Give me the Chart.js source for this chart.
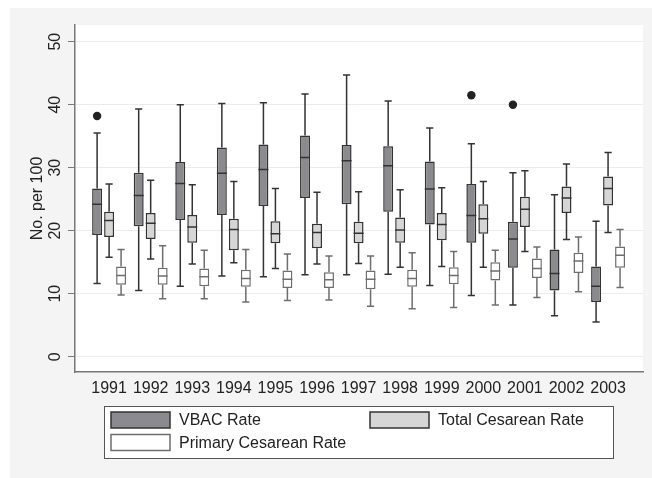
<!DOCTYPE html>
<html>
<head>
<meta charset="utf-8">
<script src="https://cdn.jsdelivr.net/npm/chart.js@4.4.1/dist/chart.umd.min.js"></script>
<style>
  body { margin: 0; background: #fff; }
  #canvasBox { display: block; }
</style>
</head>
<body>
<canvas id="canvasBox" width="652" height="478"></canvas>
<script>
var years = [1991, 1992, 1993, 1994, 1995, 1996, 1997, 1998, 1999, 2000, 2001, 2002, 2003];

// VBAC rate
var vbacLow = [11.6, 10.5, 11.2, 12.8, 12.7, 13.0, 13.0, 13.1, 11.3, 9.7, 8.2, 6.5, 5.5];
var vbacQ1 = [19.3, 20.7, 21.7, 22.5, 23.9, 25.2, 24.2, 23.0, 21.0, 18.1, 14.1, 10.5, 8.7];
var vbacMed = [24.2, 25.6, 27.5, 29.1, 29.7, 31.6, 31.1, 30.3, 26.6, 22.4, 18.7, 13.2, 11.2];
var vbacQ3 = [26.7, 29.2, 30.9, 33.2, 33.7, 35.1, 33.6, 33.4, 31.0, 27.4, 21.4, 17.0, 14.3];
var vbacHigh = [35.5, 39.3, 40.0, 40.2, 40.3, 41.7, 44.7, 40.6, 36.3, 33.8, 29.2, 25.7, 21.5];
var vbacOut = [38.2, null, null, null, null, null, null, null, null, 41.5, 40.0, null, null];

// Total cesarean rate
var totalLow = [15.8, 15.5, 14.7, 14.9, 14.0, 14.7, 14.8, 14.2, 14.3, 14.2, 16.7, 18.6, 19.7];
var totalQ1 = [19.0, 18.7, 18.1, 16.9, 18.0, 17.2, 18.0, 18.1, 18.5, 19.5, 20.6, 22.8, 24.0];
var totalMed = [21.6, 21.2, 20.6, 20.2, 19.5, 19.7, 19.6, 20.1, 21.0, 21.9, 23.4, 25.2, 26.7];
var totalQ3 = [23.0, 22.8, 22.5, 21.9, 21.5, 21.1, 21.4, 22.1, 22.8, 24.2, 25.4, 27.0, 28.6];
var totalHigh = [27.4, 28.0, 27.3, 27.8, 26.7, 26.1, 26.2, 26.5, 26.8, 27.8, 29.5, 30.6, 32.4];

// Primary cesarean rate
var primLow = [9.8, 9.2, 9.2, 8.7, 8.9, 9.0, 8.0, 7.6, 7.8, 8.2, 9.4, 10.3, 11.0];
var primQ1 = [11.4, 11.4, 11.2, 11.1, 10.9, 10.9, 10.7, 11.1, 11.5, 12.1, 12.5, 13.3, 14.1];
var primMed = [12.9, 12.8, 12.7, 12.4, 12.3, 12.2, 12.3, 12.4, 12.9, 13.6, 14.0, 15.2, 16.1];
var primQ3 = [14.3, 14.1, 14.0, 13.8, 13.7, 13.4, 13.7, 13.8, 14.2, 15.0, 15.6, 16.5, 17.5];
var primHigh = [17.0, 17.6, 16.9, 17.0, 16.3, 16.0, 16.0, 16.5, 16.7, 16.9, 17.4, 19.0, 20.2];

var yTicks = [0, 10, 20, 30, 40, 50];
var seriesLabels = ['VBAC Rate', 'Total Cesarean Rate', 'Primary Cesarean Rate'];

var FONT = '"Liberation Sans", Arial, Helvetica, sans-serif';

function boxData(q1, q3) {
    return years.map(function (yr, i) {
        return { x: yr, y: [q1[i], q3[i]] };
    });
}

var stats = [
    { low: vbacLow, med: vbacMed, high: vbacHigh, out: vbacOut, line: '#333333' },
    { low: totalLow, med: totalMed, high: totalHigh, out: null, line: '#333333' },
    { low: primLow, med: primMed, high: primHigh, out: null, line: '#6e6e6e' }
];

var backgroundPlugin = {
    id: 'stataBg',
    beforeDraw: function (chart) {
        var ctx = chart.ctx;
        var a = chart.chartArea;
        ctx.save();
        ctx.fillStyle = '#f4f4f4';
        ctx.fillRect(10, 8, chart.width - 10, chart.height - 8);
        ctx.fillStyle = '#ffffff';
        ctx.fillRect(a.left, a.top, a.right - a.left, a.bottom - a.top);
        ctx.restore();
    }
};

// whiskers, medians and outside values drawn on the bar elements
var boxPlugin = {
    id: 'boxParts',
    afterDatasetsDraw: function (chart) {
        var ctx = chart.ctx;
        var yScale = chart.scales.y;
        ctx.save();
        stats.forEach(function (s, d) {
            var meta = chart.getDatasetMeta(d);
            meta.data.forEach(function (bar, i) {
                var x = bar.x;
                var half = bar.width / 2;
                var cap = bar.width * 0.36;
                var yLow = yScale.getPixelForValue(s.low[i]);
                var yHigh = yScale.getPixelForValue(s.high[i]);
                var yQ1 = yScale.getPixelForValue(chart.data.datasets[d].data[i].y[0]);
                var yQ3 = yScale.getPixelForValue(chart.data.datasets[d].data[i].y[1]);
                var yMed = yScale.getPixelForValue(s.med[i]);
                ctx.strokeStyle = s.line;
                ctx.lineWidth = 1.5;
                ctx.beginPath();
                ctx.moveTo(x, yQ3); ctx.lineTo(x, yHigh);
                ctx.moveTo(x - cap, yHigh); ctx.lineTo(x + cap, yHigh);
                ctx.moveTo(x, yQ1); ctx.lineTo(x, yLow);
                ctx.moveTo(x - cap, yLow); ctx.lineTo(x + cap, yLow);
                ctx.moveTo(x - half, yMed); ctx.lineTo(x + half, yMed);
                ctx.stroke();
                if (s.out && s.out[i] != null) {
                    ctx.fillStyle = '#222222';
                    ctx.beginPath();
                    ctx.arc(x, yScale.getPixelForValue(s.out[i]), 4.2, 0, Math.PI * 2);
                    ctx.fill();
                }
            });
        });
        ctx.restore();
    }
};

// two column legend in a framed box under the plot
var legendPlugin = {
    id: 'boxLegend',
    afterDraw: function (chart) {
        var ctx = chart.ctx;
        var left = 104.5, top = 406.5, w = 509, h = 52;
        ctx.save();
        ctx.fillStyle = '#ffffff';
        ctx.fillRect(left, top, w, h);
        ctx.strokeStyle = '#555555';
        ctx.lineWidth = 1;
        ctx.strokeRect(left, top, w, h);
        ctx.font = '16px ' + FONT;
        ctx.textBaseline = 'middle';
        ctx.textAlign = 'left';
        chart.data.datasets.forEach(function (ds, i) {
            var col = i % 2, row = Math.floor(i / 2);
            var sx = 111 + col * 259, sy = 412 + row * 22.5;
            ctx.fillStyle = ds.backgroundColor;
            ctx.fillRect(sx, sy, 59, 16);
            ctx.strokeStyle = ds.borderColor;
            ctx.lineWidth = 1.5;
            ctx.strokeRect(sx, sy, 59, 16);
            ctx.fillStyle = '#222222';
            ctx.fillText(ds.label, sx + 68, sy + 9);
        });
        ctx.restore();
    }
};

function drawBoxChart() {
    var config = {
        type: 'bar',
        data: {
            datasets: [{
                label: seriesLabels[0],
                data: boxData(vbacQ1, vbacQ3),
                backgroundColor: '#8b8b8f',
                borderColor: '#333333'
            }, {
                label: seriesLabels[1],
                data: boxData(totalQ1, totalQ3),
                backgroundColor: '#d6d6d6',
                borderColor: '#333333'
            }, {
                label: seriesLabels[2],
                data: boxData(primQ1, primQ3),
                backgroundColor: '#ffffff',
                borderColor: '#6e6e6e'
            }]
        },
        options: {
            responsive: false,
            animation: false,
            layout: { padding: { top: 25, right: 9, left: 10, bottom: 76 } },
            datasets: {
                bar: {
                    borderWidth: 1.5,
                    borderSkipped: false,
                    categoryPercentage: 0.865,
                    barPercentage: 0.83
                }
            },
            scales: {
                x: {
                    type: 'linear',
                    offset: false,
                    min: 1990.18,
                    max: 2003.84,
                    afterFit: function (axis) { axis.height = 30; },
                    grid: { display: false, drawTicks: false },
                    border: { color: '#777777', width: 1.5 },
                    ticks: {
                        stepSize: 1,
                        includeBounds: false,
                        autoSkip: false,
                        maxRotation: 0,
                        padding: 7,
                        color: '#222222',
                        font: { size: 16, family: FONT },
                        callback: function (v) {
                            return years.indexOf(v) >= 0 ? String(v) : '';
                        }
                    }
                },
                y: {
                    min: -2.43,
                    max: 52.65,
                    afterFit: function (axis) { axis.width = 65; },
                    afterBuildTicks: function (axis) {
                        axis.ticks = yTicks.map(function (v) { return { value: v }; });
                    },
                    grid: { color: '#ececec', tickColor: '#777777', tickLength: 7 },
                    border: { color: '#777777', width: 1.5 },
                    ticks: {
                        minRotation: 90,
                        maxRotation: 90,
                        crossAlign: 'center',
                        padding: 4,
                        color: '#222222',
                        font: { size: 16, family: FONT }
                    },
                    title: {
                        display: true,
                        text: 'No. per 100',
                        color: '#222222',
                        font: { size: 16, family: FONT },
                        padding: { top: 18, bottom: 0 }
                    }
                }
            },
            plugins: {
                legend: { display: false },
                tooltip: { enabled: false }
            }
        },
        plugins: [backgroundPlugin, boxPlugin, legendPlugin]
    };
    var ctx = document.getElementById('canvasBox').getContext('2d');
    return new Chart(ctx, config);
}

drawBoxChart();
</script>
</body>
</html>
